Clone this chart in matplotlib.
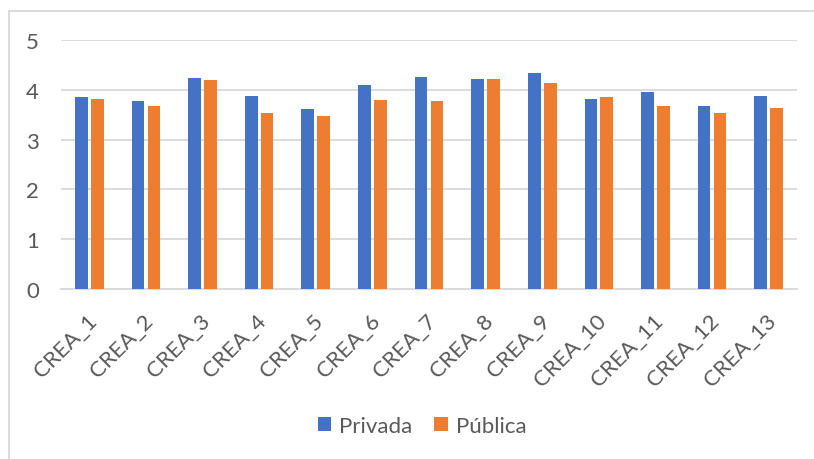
import numpy as np
import matplotlib.pyplot as plt
import matplotlib.transforms as mtransforms
from matplotlib.lines import Line2D

categories = ["CREA_1", "CREA_2", "CREA_3", "CREA_4", "CREA_5", "CREA_6", "CREA_7",
              "CREA_8", "CREA_9", "CREA_10", "CREA_11", "CREA_12", "CREA_13"]
privada = [3.85, 3.78, 4.23, 3.87, 3.61, 4.09, 4.26, 4.22, 4.34, 3.82, 3.96, 3.67, 3.88]
publica = [3.82, 3.67, 4.19, 3.53, 3.47, 3.80, 3.78, 4.22, 4.14, 3.86, 3.67, 3.53, 3.64]

plt.rcParams['font.family'] = ['Lato', 'DejaVu Sans']
text_color = '#595959'
grid_color = '#D9D9D9'
fs = 16

fig = plt.figure(figsize=(8.14, 4.6), dpi=100)
ax = fig.add_axes([61 / 814, 1 - 290 / 460, (797 - 61) / 814, (290 - 41) / 460])

x = np.arange(len(categories))
w = 0.224
ax.bar(x - 0.141, privada, width=w, color='#4472C4', label='Privada', zorder=3)
ax.bar(x + 0.141, publica, width=w, color='#ED7D31', label='Pública', zorder=3)

ax.set_xlim(-0.5, len(categories) - 0.5)
ax.set_ylim(0, 5)
ax.set_yticks(range(6))
ax.yaxis.grid(True, color=grid_color, linewidth=1.3, zorder=0)
for s in ['top', 'right', 'left']:
    ax.spines[s].set_visible(False)
ax.spines['bottom'].set_color(grid_color)
ax.spines['bottom'].set_linewidth(1.3)
ax.tick_params(axis='both', length=0, colors=text_color, labelsize=fs)
ax.tick_params(axis='y', pad=16)
ax.tick_params(axis='x', pad=15)
ax.set_xticks(x)
ax.set_xticklabels(categories, rotation=45, ha='right', va='top', rotation_mode='anchor')
shift = mtransforms.ScaledTranslation(-0.03, 0, fig.dpi_scale_trans)
for lbl in ax.get_xticklabels():
    lbl.set_transform(lbl.get_transform() + shift)

leg = fig.legend(loc='center', bbox_to_anchor=(422 / 814, 1 - 427 / 460), ncol=2, frameon=False,
                 fontsize=fs, handlelength=0.6, handleheight=0.6, handletextpad=0.35,
                 columnspacing=1.0)
for t in leg.get_texts():
    t.set_color(text_color)

# outer chart border
fig.add_artist(Line2D([9 / 814, 1], [1 - 12 / 460, 1 - 12 / 460], color=grid_color, linewidth=1.3))
fig.add_artist(Line2D([9 / 814, 9 / 814], [0, 1 - 12 / 460], color=grid_color, linewidth=1.3))

fig.savefig('out.png', dpi=100, facecolor='white')
